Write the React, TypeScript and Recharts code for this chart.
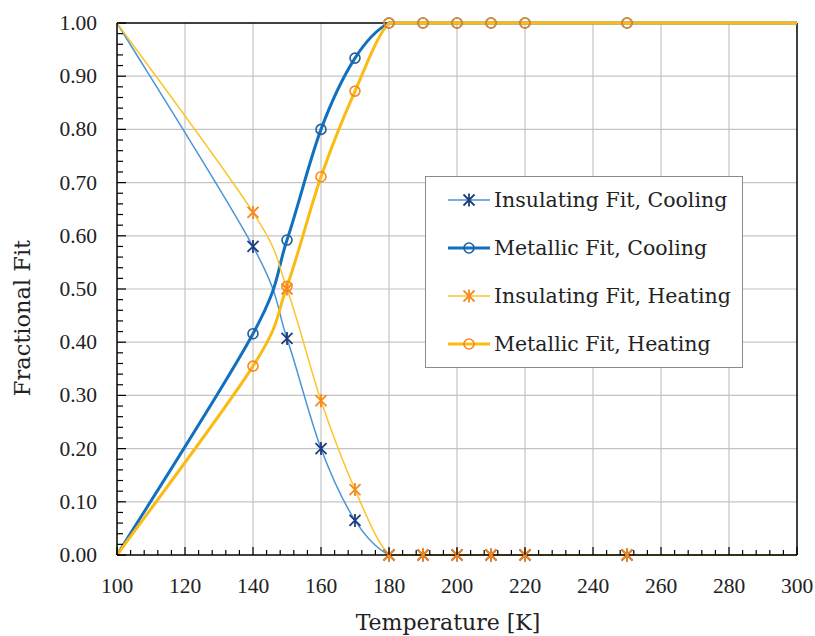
import React from "react";
import {
  LineChart,
  Line,
  XAxis,
  YAxis,
  CartesianGrid,
  ReferenceLine,
  Label,
} from "recharts";

// temperatures [K]; 100 and 300 are curve end points without markers
const TEMPS = [100, 140, 150, 160, 170, 180, 190, 200, 210, 220, 250, 300];
const INS_COOL = [1, 0.58, 0.407, 0.2, 0.065, 0, 0, 0, 0, 0, 0, 0];
const MET_COOL = [0, 0.416, 0.592, 0.8, 0.934, 1, 1, 1, 1, 1, 1, 1];
const INS_HEAT = [1, 0.644, 0.5, 0.29, 0.123, 0, 0, 0, 0, 0, 0, 0];
const MET_HEAT = [0, 0.355, 0.505, 0.711, 0.872, 1, 1, 1, 1, 1, 1, 1];

const X_MAJOR = [100, 120, 140, 160, 180, 200, 220, 240, 260, 280, 300];
const Y_MAJOR = [0, 0.1, 0.2, 0.3, 0.4, 0.5, 0.6, 0.7, 0.8, 0.9, 1];
const X_TICKS = Array.from({ length: 51 }, (_, i) => 100 + i * 4);
const Y_TICKS = Array.from({ length: 51 }, (_, i) => i / 50);

const FONT = "'DejaVu Serif', serif";
const NUM_FONT = "'Liberation Serif', serif";

const data = TEMPS.map((t, i) => ({
  t,
  insCool: INS_COOL[i],
  metCool: MET_COOL[i],
  insHeat: INS_HEAT[i],
  metHeat: MET_HEAT[i],
}));

const SERIES = [
  { key: "insCool", name: "Insulating Fit, Cooling", line: "#4b95d6", width: 1.5, mark: "#1d3d7d", shape: "star" },
  { key: "metCool", name: "Metallic Fit, Cooling", line: "#1270c0", width: 3, mark: "#245f98", shape: "circle" },
  { key: "insHeat", name: "Insulating Fit, Heating", line: "#fcc52a", width: 1.5, mark: "#f5891f", shape: "star" },
  { key: "metHeat", name: "Metallic Fit, Heating", line: "#fbbb12", width: 3, mark: "#f5891f", shape: "circle" },
];

const clamp = (v: number, a: number, b: number) => Math.min(Math.max(v, Math.min(a, b)), Math.max(a, b));

// spreadsheet-style smoothed line (Catmull-Rom through the points),
// control points kept inside each segment's y range so flat runs stay flat
const smoothCurve = (context: any) => {
  let pts: number[][] = [];
  return {
    areaStart() {},
    areaEnd() {},
    lineStart() {
      pts = [];
    },
    point(x: number, y: number) {
      pts.push([+x, +y]);
    },
    lineEnd() {
      const n = pts.length;
      if (!n) return;
      context.moveTo(pts[0][0], pts[0][1]);
      for (let i = 0; i < n - 1; i++) {
        const p0 = pts[Math.max(i - 1, 0)];
        const p1 = pts[i];
        const p2 = pts[i + 1];
        const p3 = pts[Math.min(i + 2, n - 1)];
        context.bezierCurveTo(
          p1[0] + (p2[0] - p0[0]) / 6,
          clamp(p1[1] + (p2[1] - p0[1]) / 6, p1[1], p2[1]),
          p2[0] - (p3[0] - p1[0]) / 6,
          clamp(p2[1] - (p3[1] - p1[1]) / 6, p1[1], p2[1]),
          p2[0],
          p2[1]
        );
      }
    },
  };
};

function Marker({ x, y, shape, color }: { x: number; y: number; shape: string; color: string }) {
  if (shape === "circle") {
    return <circle cx={x} cy={y} r={5} fill="none" stroke={color} strokeWidth={1.6} />;
  }
  const s = 5.5;
  return (
    <g stroke={color} strokeWidth={1.8}>
      <line x1={x - s} y1={y - s} x2={x + s} y2={y + s} />
      <line x1={x - s} y1={y + s} x2={x + s} y2={y - s} />
      <line x1={x} y1={y - s - 1} x2={x} y2={y + s + 1} />
    </g>
  );
}

const makeDot = (shape: string, color: string) => (props: any) => {
  const { cx, cy, payload, index } = props;
  if (payload.t === 100 || payload.t === 300) return <g key={index} />;
  return (
    <g key={index}>
      <Marker x={cx} y={cy} shape={shape} color={color} />
    </g>
  );
};

const XTick = (props: any) => {
  const { x, y, payload } = props;
  const major = payload.value % 20 === 0;
  return (
    <g>
      <line x1={x} x2={x} y1={y} y2={y - (major ? 8 : 5)} stroke="#000" strokeWidth={1.2} />
      {major && (
        <text x={x} y={y + 31} textAnchor="middle" dominantBaseline="central" fontFamily={NUM_FONT} fontSize={21.5} fill="#222">
          {payload.value}
        </text>
      )}
    </g>
  );
};

const YTick = (props: any) => {
  const { x, y, payload } = props;
  const major = Math.round(payload.value * 100) % 10 === 0;
  return (
    <g>
      <line x1={x} x2={x + (major ? 9 : 6)} y1={y} y2={y} stroke="#000" strokeWidth={1.2} />
      {major && (
        <text x={x - 20} y={y} textAnchor="end" dominantBaseline="central" fontFamily={NUM_FONT} fontSize={21.5} fill="#222">
          {payload.value.toFixed(2)}
        </text>
      )}
    </g>
  );
};

function LegendBox() {
  return (
    <div
      style={{
        position: "absolute",
        left: 417,
        top: 168,
        width: 316,
        height: 190,
        border: "1px solid #8a8a8a",
        background: "#fff",
        fontFamily: FONT,
        fontSize: 20.5,
        color: "#222",
      }}
    >
      {SERIES.map((s, i) => (
        <div
          key={s.key}
          style={{ position: "absolute", left: 20, top: 11 + i * 48, height: 24, display: "flex", alignItems: "center" }}
        >
          <svg width={46} height={22}>
            <line x1={2} x2={44} y1={11} y2={11} stroke={s.line} strokeWidth={s.width} />
            <Marker x={23} y={11} shape={s.shape} color={s.mark} />
          </svg>
          <span style={{ marginLeft: 2, whiteSpace: "nowrap" }}>{s.name}</span>
        </div>
      ))}
    </div>
  );
}

export default function App() {
  return (
    <div style={{ position: "relative", width: 807, height: 628, margin: "8px 0 0 8px" }}>
      <style>{"html { overflow: hidden; } body { margin: 0; }"}</style>
      <LineChart width={807} height={628} data={data} margin={{ top: 15, right: 18, left: 0, bottom: 0 }}>
        <CartesianGrid
          stroke="#c4c4c4"
          strokeWidth={1.2}
          verticalValues={X_MAJOR.slice(1, -1)}
          horizontalValues={Y_MAJOR.slice(1, -1)}
        />
        <XAxis
          dataKey="t"
          type="number"
          domain={[100, 300]}
          ticks={X_TICKS}
          interval={0}
          height={81}
          tickSize={0}
          tickMargin={0}
          tick={<XTick />}
          axisLine={{ stroke: "#000", strokeWidth: 1.5 }}
        >
          <Label
            content={({ viewBox }: any) => (
              <text
                x={viewBox.x + viewBox.width / 2 - 9}
                y={viewBox.y + 67}
                textAnchor="middle"
                dominantBaseline="central"
                fontFamily={FONT}
                fontSize={22}
                fill="#222"
              >
                Temperature [K]
              </text>
            )}
          />
        </XAxis>
        <YAxis
          type="number"
          domain={[0, 1]}
          ticks={Y_TICKS}
          interval={0}
          width={109}
          tickSize={0}
          tickMargin={0}
          tick={<YTick />}
          axisLine={{ stroke: "#000", strokeWidth: 1.5 }}
        >
          <Label
            content={({ viewBox }: any) => {
              const cx = viewBox.x + 14;
              const cy = viewBox.y + viewBox.height / 2 + 29;
              return (
                <text
                  x={cx}
                  y={cy}
                  textAnchor="middle"
                  dominantBaseline="central"
                  transform={`rotate(-90 ${cx} ${cy})`}
                  fontFamily={FONT}
                  fontSize={22.5}
                  fill="#222"
                >
                  Fractional Fit
                </text>
              );
            }}
          />
        </YAxis>
        <ReferenceLine y={1} stroke="#000" strokeWidth={1.5} />
        <ReferenceLine x={300} stroke="#000" strokeWidth={1.5} />
        {SERIES.map((s) => (
          <Line
            key={s.key}
            dataKey={s.key}
            type={smoothCurve as any}
            stroke={s.line}
            strokeWidth={s.width}
            dot={makeDot(s.shape, s.mark)}
            activeDot={false}
            isAnimationActive={false}
          />
        ))}
      </LineChart>
      <LegendBox />
    </div>
  );
}
